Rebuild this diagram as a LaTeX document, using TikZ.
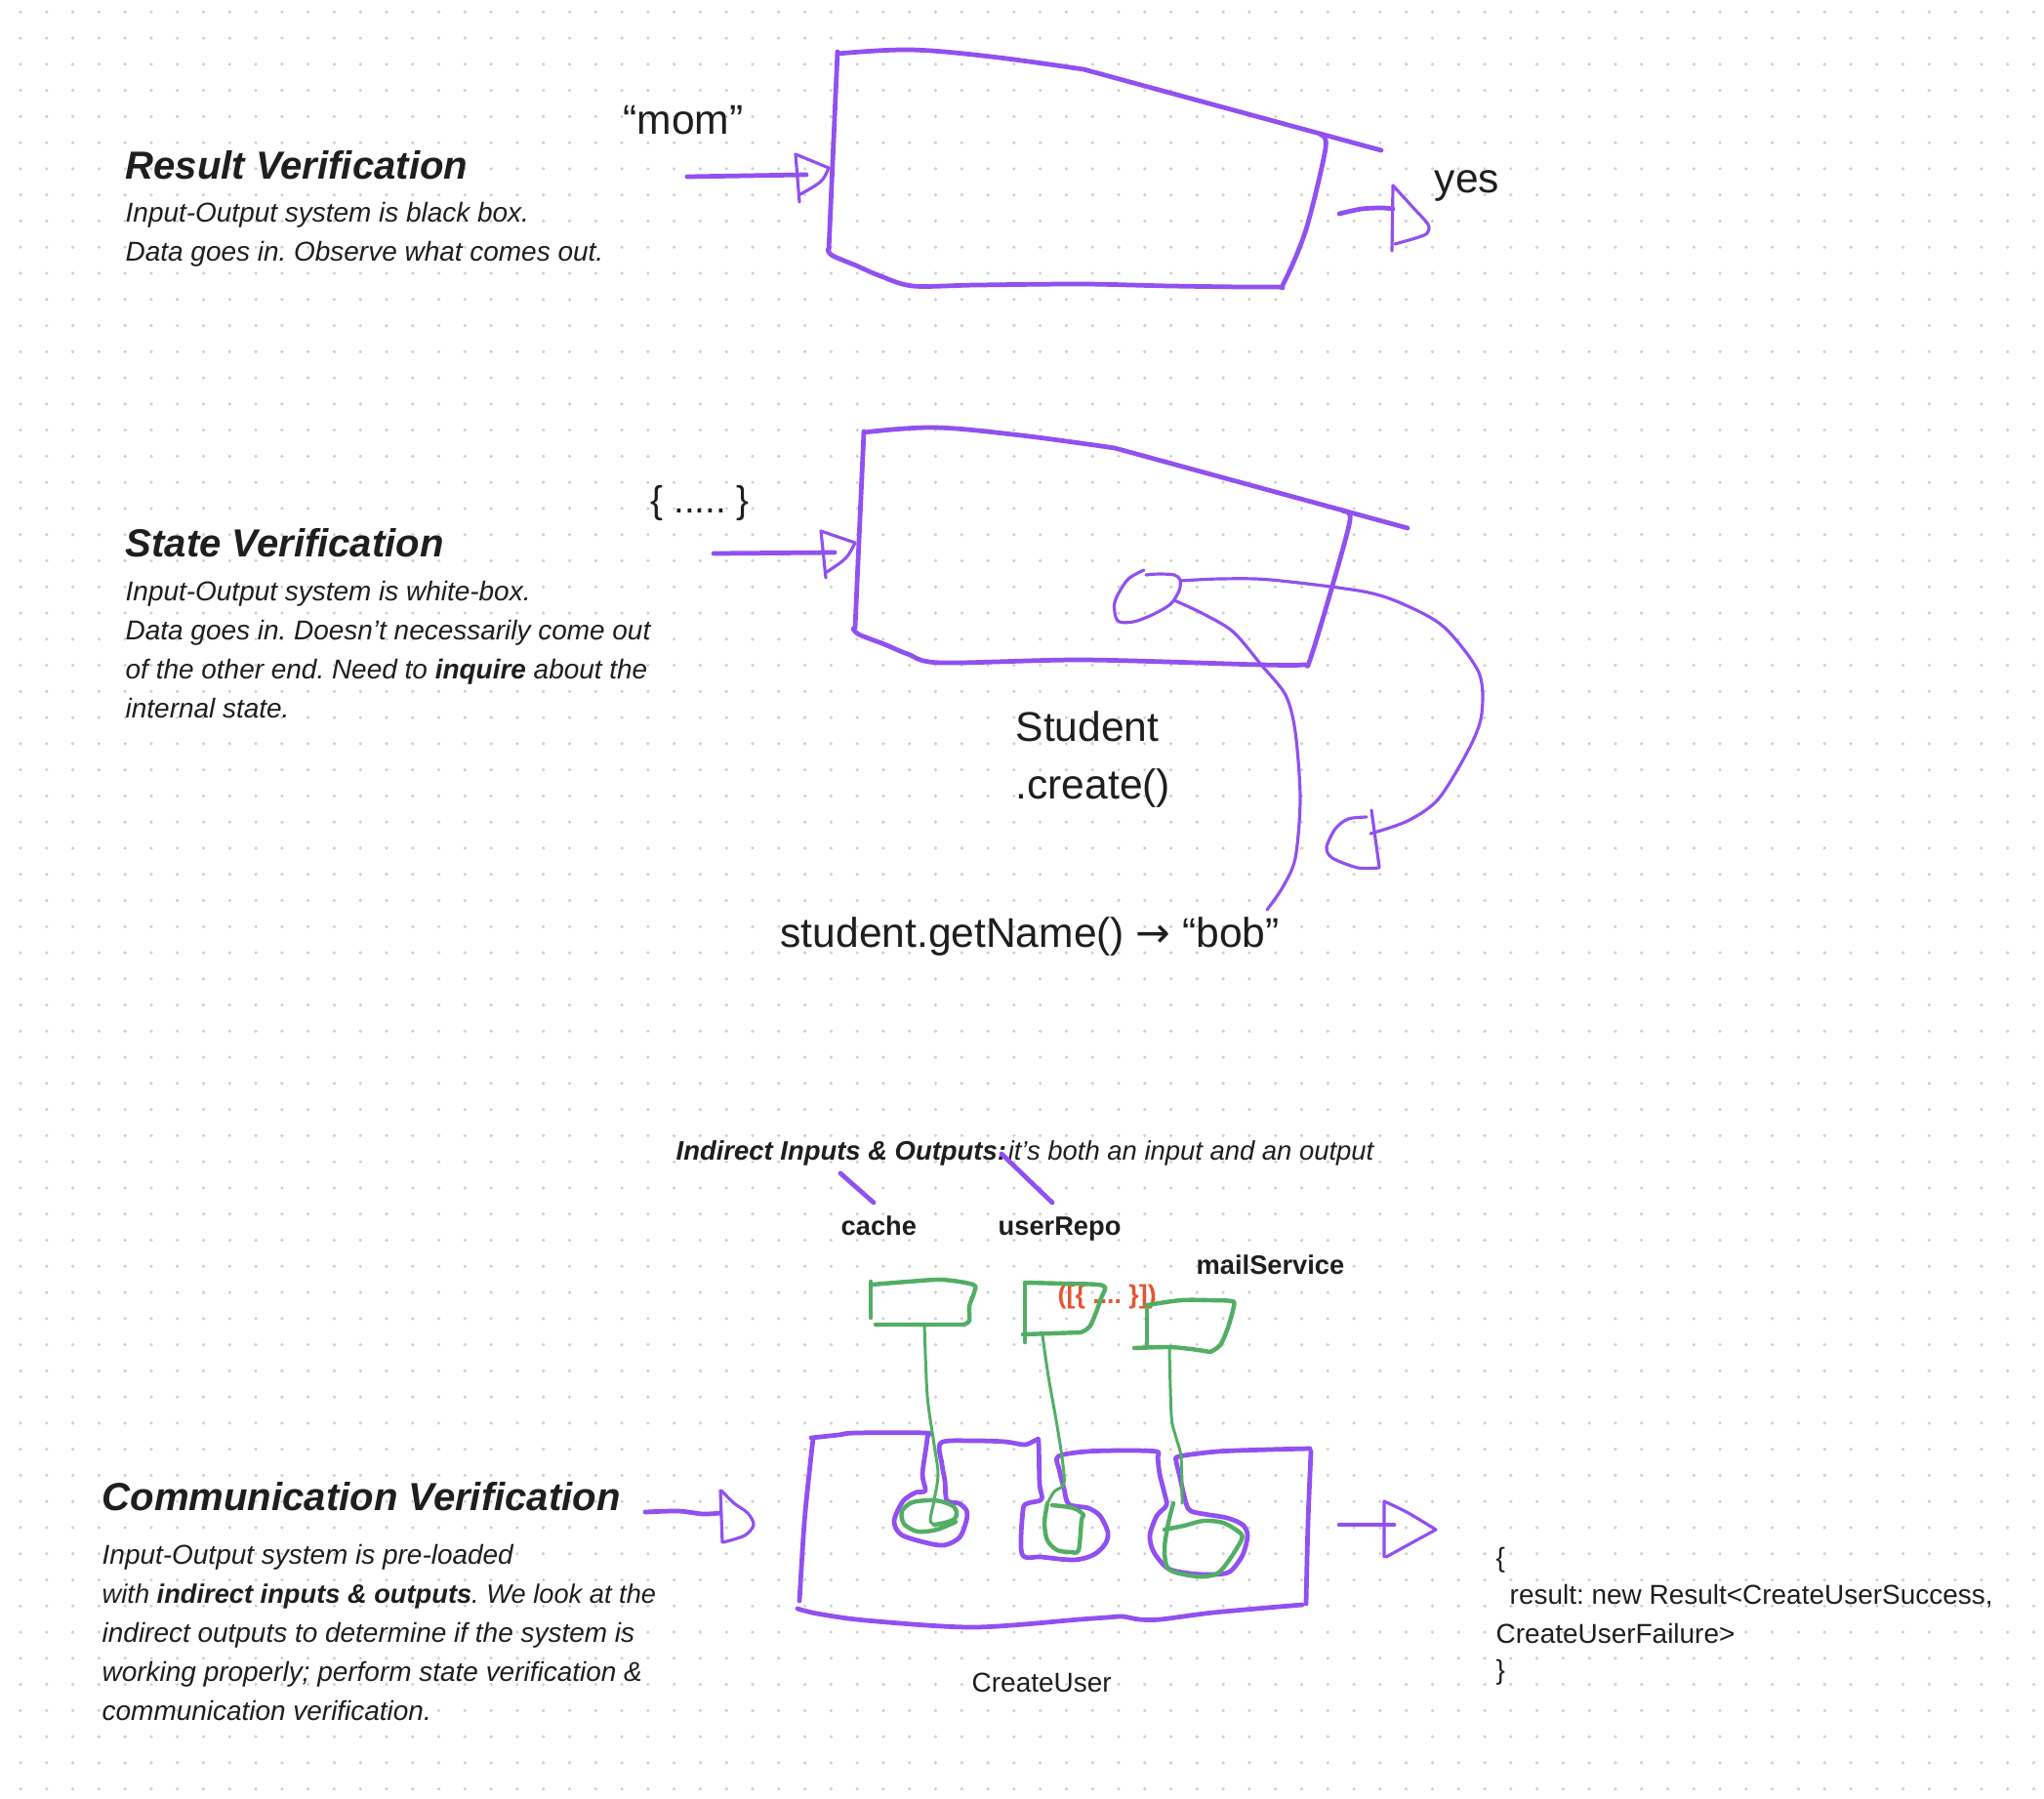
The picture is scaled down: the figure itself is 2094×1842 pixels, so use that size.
\documentclass[tikz,border=0pt]{standalone}
\usepackage{fontspec}
\setmainfont{Liberation Sans}
\newfontfamily\arrowfont{DejaVu Sans}
\frenchspacing
\definecolor{penviolet}{HTML}{9150F0}
\definecolor{pengreen}{HTML}{52AE65}
\definecolor{penorange}{HTML}{E8542F}
\definecolor{inkblack}{HTML}{1E1E1E}
\definecolor{dotgrey}{HTML}{D0D0D0}
\tikzset{
  pen/.style={draw=penviolet, line width=1.35pt, line cap=round, line join=round},
  thinpen/.style={pen, line width=0.9pt},
  greenpen/.style={draw=pengreen, line width=1.25pt, line cap=round, line join=round},
  stem/.style={greenpen, line width=0.85pt},
  dotrow/.style={draw=dotgrey, line width=1pt, line cap=round, dash pattern=on 0pt off 0.2677cm},
  txt/.style={anchor=base west, inner sep=0pt, text=inkblack},
  heading/.style={txt, font=\fontsize{11.4}{13}\selectfont\bfseries\itshape},
  body/.style={txt, font=\fontsize{7.95}{11}\selectfont\itshape},
  big/.style={txt, font=\fontsize{12.1}{14}\selectfont},
  tag/.style={txt, font=\fontsize{7.75}{9}\selectfont\bfseries},
  small/.style={txt, font=\fontsize{7.95}{9}\selectfont}
}
\begin{document}
\begin{tikzpicture}[x=0.01cm, y=-0.01cm]
\useasboundingbox[fill=white] (0,0) rectangle (2094,1842);
\foreach \j in {0,...,68}
  \draw[dotrow] (21,{12.3+26.77*\j}) -- (2094,{12.3+26.77*\j});

% result verification
\node[heading] (rv-title) at (128,183) {Result Verification};
\node[body] (rv-l1) at (128,227) {Input-Output system is black box.};
\node[body] (rv-l2) at (128,267) {Data goes in. Observe what comes out.};
\node[big] (rv-in) at (638,137) {“mom”};
\node[big] (rv-out) at (1469,197) {yes};
\draw[pen] (704,181) -- (826,179);
\draw[thinpen] (819,207) -- (815,158) -- (849,172) .. controls (843,186) .. (820,199);
\draw[pen] (858,53) -- (849,257);
\draw[pen] plot[smooth, tension=0.6] coordinates {(858,55) (932,51) (1015,58) (1110,71)} -- (1415,154);
\draw[pen] plot[smooth, tension=0.5] coordinates {(1353,138) (1358,152) (1338,235) (1315,290) (1305,294)
  (1200,293) (1110,291) (1000,292) (935,293) (900,282) (877,272) (853,262) (848,256)};
\draw[pen] plot[smooth] coordinates {(1372,219) (1395,214) (1416,213) (1427,214)};
\draw[thinpen] (1426,257) -- (1427,190);
\draw[thinpen] plot[smooth] coordinates {(1427,190) (1448,213) (1463,230) (1462,239) (1450,244) (1429,250)};

% state verification
\node[heading] (sv-title) at (128,570) {State Verification};
\node[body] (sv-l1) at (128,615) {Input-Output system is white-box.};
\node[body] (sv-l2) at (128,655) {Data goes in. Doesn’t necessarily come out};
\node[body] (sv-l3) at (128,695) {of the other end. Need to \textbf{inquire} about the};
\node[body] (sv-l4) at (128,735) {internal state.};
\node[big, font=\fontsize{11}{13}\selectfont] (sv-in) at (666,525) {\{ ..... \}};
\node[big] (sv-create1) at (1040,759) {Student};
\node[big] (sv-create2) at (1040,818) {.create()};
\node[big] (sv-query) at (799,970) {student.getName() {\arrowfont →} “bob”};
\draw[pen] (731,567) -- (855,566);
\draw[thinpen] (846,592) -- (841,544) -- (876,556) .. controls (868,572) .. (847,586);
\draw[pen] (885,442) -- (876,643);
\draw[pen] plot[smooth, tension=0.6] coordinates {(885,443) (957,438) (1046,446) (1142,459)} -- (1442,541);
\draw[pen] plot[smooth, tension=0.5] coordinates {(1377,524) (1383,533) (1365,600) (1342,676) (1335,681)
  (1292,681) (1110,676) (964,679) (930,670) (906,660) (880,650) (874,644)};
\draw[thinpen] plot[smooth] coordinates {(1172,584) (1155,594) (1142,617) (1145,636) (1161,637) (1180,630)
  (1199,619) (1208,605) (1209,594) (1203,589) (1187,588) (1174,589)};
\draw[thinpen] plot[smooth] coordinates {(1209,595) (1250,593) (1302,594) (1397,606) (1440,620) (1480,643)
  (1515,689) (1518,731) (1506,765) (1474,818) (1442,841) (1404,854)};
\draw[thinpen] (1405,830) -- (1413,888);
\draw[thinpen] plot[smooth] coordinates {(1400,837) (1381,839) (1368,849) (1359,868) (1365,879) (1391,889) (1413,889)};
\draw[thinpen] plot[smooth] coordinates {(1203,615) (1231,628) (1263,647) (1292,681) (1317,712) (1327,750)
  (1332,818) (1327,879) (1314,909) (1298,932)};

% communication verification
\node[heading] (cv-title) at (104,1547) {Communication Verification};
\node[body] (cv-l1) at (104,1602) {Input-Output system is pre-loaded};
\node[body, font=\fontsize{7.75}{11}\selectfont\itshape] (cv-l2) at (104,1642)
  {with \textbf{indirect inputs \& outputs}. We look at the};
\node[body] (cv-l3) at (104,1682) {indirect outputs to determine if the system is};
\node[body] (cv-l4) at (104,1722) {working properly; perform state verification \&};
\node[body] (cv-l5) at (104,1762) {communication verification.};
\node[body, font=\fontsize{7.8}{11}\selectfont\itshape] (cv-note) at (692,1188)
  {\textbf{Indirect Inputs \& Outputs:}\kern0.5pt it’s both an input and an output};
\node[tag] (cv-cache) at (861,1265) {cache};
\node[tag] (cv-repo) at (1022,1265) {userRepo};
\node[tag] (cv-mail) at (1225,1305) {mailService};
\node[tag, text=penorange, font=\fontsize{7.6}{9}\selectfont\bfseries] (cv-data) at (1083,1335) {([\{ .... \}])};
\node[small] (cv-name) at (995,1733) {CreateUser};
\node[small] (cv-j1) at (1532,1605) {\{};
\node[small] (cv-j2) at (1546,1643) {result: new Result<CreateUserSuccess,};
\node[small] (cv-j3) at (1532,1683) {CreateUserFailure>};
\node[small] (cv-j4) at (1532,1720) {\}};
\draw[pen] (861,1202) -- (895,1232);
\draw[pen] (1026,1182) -- (1078,1232);

\draw[pen] plot[smooth] coordinates {(661,1549) (695,1548) (720,1551) (738,1550)};
\draw[thinpen] (740,1580) -- (738,1527);
\draw[thinpen] plot[smooth] coordinates {(739,1527) (752,1540) (766,1550) (772,1562) (763,1573) (741,1580)};
\draw[pen] (1372,1562) -- (1428,1562);
\draw[thinpen] (1418,1595) -- (1418,1538) .. controls (1440,1548) .. (1471,1567) -- (1420,1595);

\draw[pen] plot[smooth] coordinates {(819,1640) (824,1560) (830,1500) (833,1474)};
\draw[pen] plot[smooth, tension=0.5] coordinates {(831,1473) (859,1470) (876,1468) (947,1468) (950,1473)
  (945,1510) (948,1527) (938,1529) (925,1538) (916,1558) (923,1572) (947,1580) (967,1583) (983,1575)
  (990,1558) (990,1547) (982,1540) (970,1537) (968,1517) (965,1500) (964,1478) (997,1476) (1030,1477)
  (1050,1480) (1062,1475) (1064,1478) (1065,1520) (1067,1536) (1053,1540) (1048,1547) (1047,1592)
  (1067,1595) (1100,1598) (1120,1593) (1132,1582) (1135,1570) (1127,1553) (1115,1545) (1095,1541)
  (1090,1525) (1085,1505) (1084,1492) (1113,1487) (1153,1486) (1185,1487) (1186,1493) (1188,1510)
  (1193,1530) (1195,1542) (1185,1553) (1178,1573) (1182,1590) (1197,1607) (1220,1612) (1243,1613)
  (1260,1610) (1273,1593) (1278,1573) (1273,1562) (1257,1555) (1233,1551) (1220,1548) (1215,1540)
  (1208,1510) (1205,1497) (1208,1492) (1247,1487) (1300,1485) (1342,1484)};
\draw[pen] plot[smooth] coordinates {(1343,1487) (1340,1560) (1338,1643)};
\draw[pen] plot[smooth] coordinates {(1334,1644) (1243,1652) (1189,1659) (1167,1659) (1150,1656)
  (1134,1657) (1106,1659) (997,1667) (887,1660) (837,1653) (817,1648)};

\draw[greenpen] (892,1350) -- (892,1313);
\draw[greenpen] plot[smooth, tension=0.5] coordinates {(893,1316) (930,1313) (965,1311) (997,1316)
  (998,1324) (993,1338) (993,1353) (987,1357)} -- (897,1357);
\draw[stem] plot[smooth] coordinates {(947,1357) (950,1430) (957,1480) (961,1510) (957,1537) (953,1557) (957,1562)};
\draw[greenpen] plot[smooth] coordinates {(957,1562) (968,1560) (978,1556) (980,1549) (975,1542) (958,1537)
  (935,1539) (924,1548) (926,1561) (940,1569) (960,1567) (979,1559)};

\draw[greenpen] (1050,1375) -- (1050,1315);
\draw[greenpen] plot[smooth, tension=0.5] coordinates {(1050,1314) (1090,1315) (1130,1317) (1128,1330)
  (1117,1358) (1107,1365)} -- (1048,1367);
\draw[stem] plot[smooth] coordinates {(1068,1368) (1074,1410) (1082,1455) (1088,1493) (1090,1520) (1080,1528) (1073,1540)};
\draw[greenpen] plot[smooth] coordinates {(1073,1540) (1070,1560) (1073,1578) (1083,1588) (1097,1590)
  (1105,1588) (1108,1557) (1110,1552) (1100,1545) (1078,1542)};

\draw[greenpen] (1175,1337) -- (1175,1380);
\draw[greenpen] plot[smooth, tension=0.5] coordinates {(1175,1337) (1210,1332) (1240,1332) (1262,1333)
  (1264,1338) (1258,1360) (1250,1378) (1240,1385)};
\draw[greenpen] plot[smooth] coordinates {(1162,1381) (1197,1380) (1220,1382) (1240,1385)};
\draw[stem] plot[smooth] coordinates {(1198,1382) (1200,1450) (1204,1470) (1210,1493) (1211,1540)};
\draw[greenpen] plot[smooth] coordinates {(1202,1540) (1197,1560) (1193,1587) (1198,1608) (1227,1615)
  (1247,1612) (1260,1597) (1272,1577) (1270,1570) (1253,1560) (1233,1558) (1213,1563) (1193,1567)};
\end{tikzpicture}
\end{document}
